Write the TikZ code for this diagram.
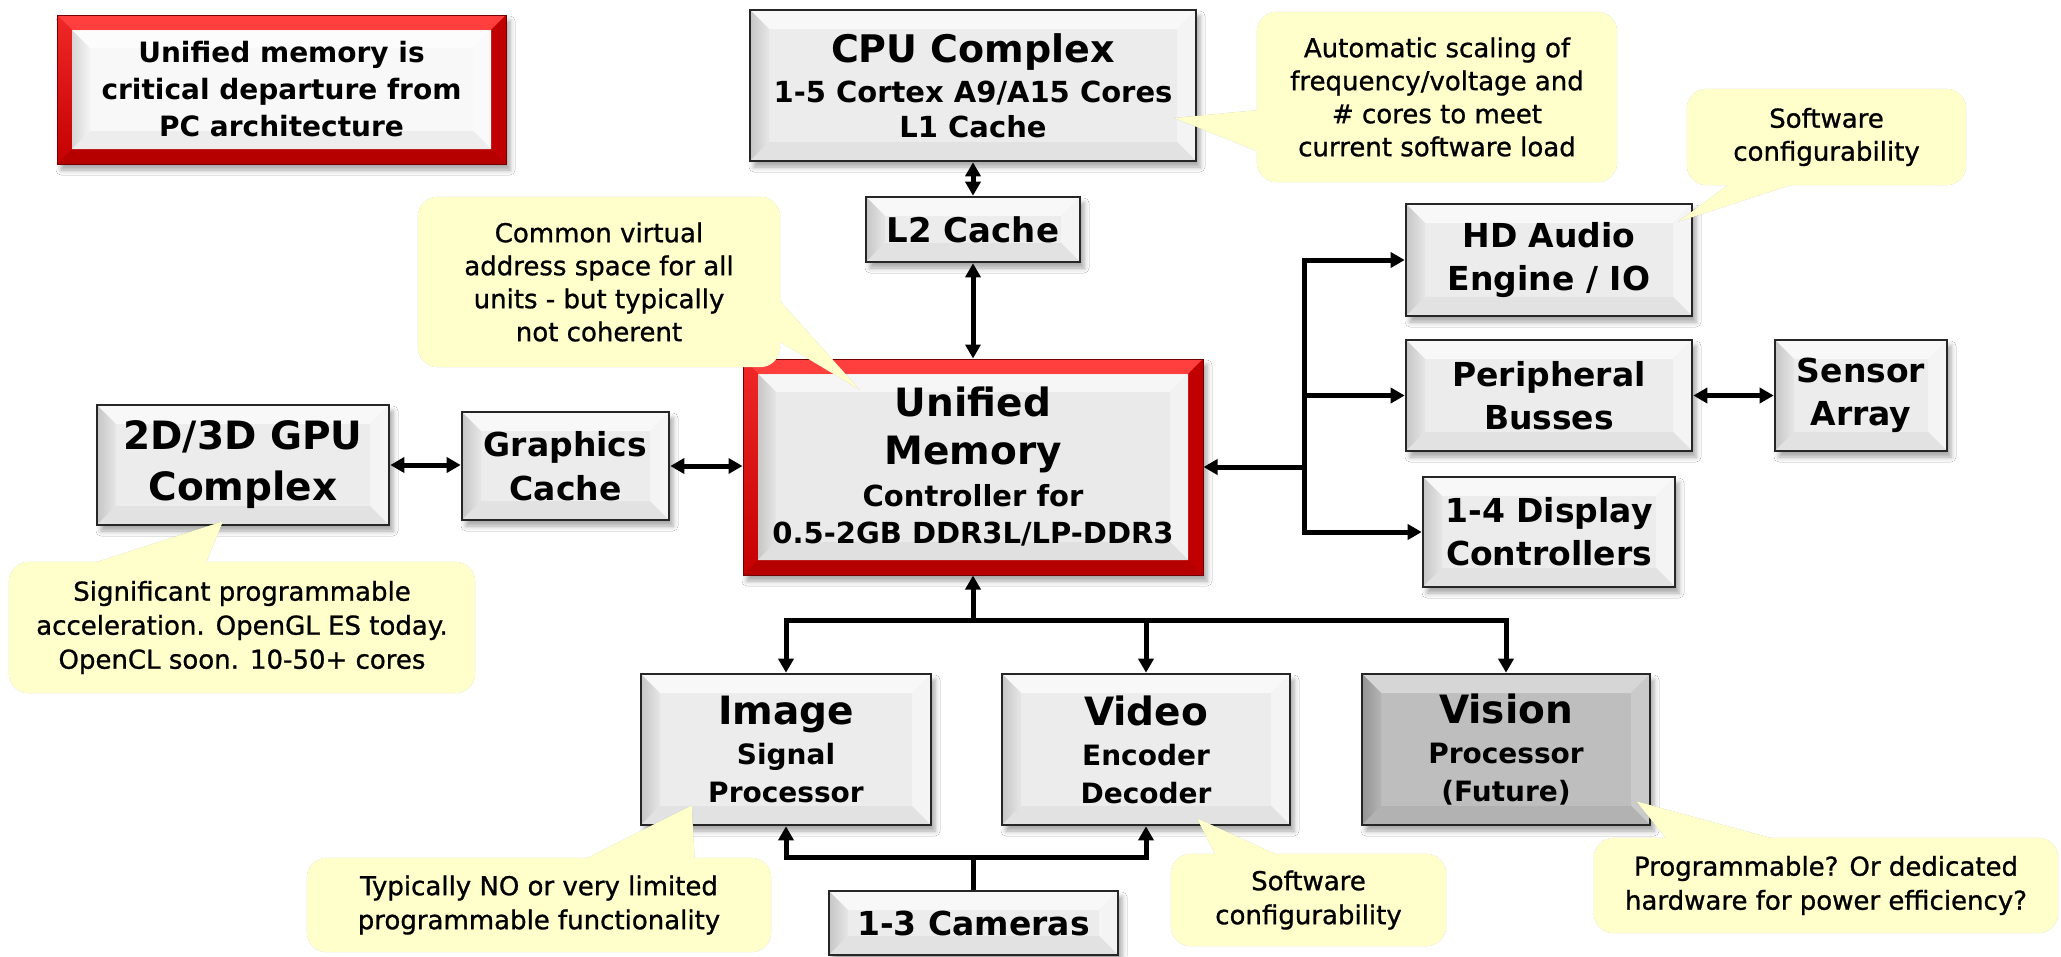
\documentclass[tikz,border=0pt]{standalone}
\usepackage{fontspec}
\setmainfont{DejaVu Sans}
\newfontfamily\callfont{DejaVu Sans}[FakeBold=1]
\usetikzlibrary{calc,arrows.meta,shadows.blur}

% palette
\definecolor{callY}{RGB}{255,255,204}
\definecolor{boxC}{RGB}{236,236,236}
\definecolor{bvT}{RGB}{248,248,248}
\definecolor{bvLa}{RGB}{198,198,198}
\definecolor{bvLb}{RGB}{230,230,230}
\definecolor{bvR}{RGB}{244,244,244}
\definecolor{bvB}{RGB}{226,226,226}
\definecolor{visC}{RGB}{190,190,190}
\definecolor{visT}{RGB}{214,214,214}
\definecolor{visLa}{RGB}{148,148,148}
\definecolor{visLb}{RGB}{180,180,180}
\definecolor{visR}{RGB}{202,202,202}
\definecolor{visB}{RGB}{178,178,178}
\definecolor{redC}{RGB}{212,0,0}
\definecolor{redT}{RGB}{255,62,62}
\definecolor{redLa}{RGB}{240,40,40}
\definecolor{redLb}{RGB}{196,0,0}
\definecolor{redR}{RGB}{192,0,0}
\definecolor{redB}{RGB}{182,0,0}
\definecolor{noteIn}{RGB}{248,248,248}
\definecolor{memIn}{RGB}{234,234,234}

\pgfdeclarelayer{cshad}
\pgfdeclarelayer{cfill}
\pgfdeclarelayer{ctext}
\pgfsetlayers{main,cshad,cfill,ctext}

\newcommand\fsz[2]{\fontsize{#1}{#2}\selectfont}

% four bevel faces between inset #1 and inset #2: top, left, right, bottom
\newcommand\bvq[6]{%
 \path[#3] ($(path picture bounding box.north west)+(#1,-#1)$) -- ($(path picture bounding box.north east)+(-#1,-#1)$) -- ($(path picture bounding box.north east)+(-#2,-#2)$) -- ($(path picture bounding box.north west)+(#2,-#2)$) -- cycle;
 \path[#4] ($(path picture bounding box.north west)+(#1,-#1)$) -- ($(path picture bounding box.north west)+(#2,-#2)$) -- ($(path picture bounding box.south west)+(#2,#2)$) -- ($(path picture bounding box.south west)+(#1,#1)$) -- cycle;
 \path[#5] ($(path picture bounding box.north east)+(-#1,-#1)$) -- ($(path picture bounding box.south east)+(-#1,#1)$) -- ($(path picture bounding box.south east)+(-#2,#2)$) -- ($(path picture bounding box.north east)+(-#2,-#2)$) -- cycle;
 \path[#6] ($(path picture bounding box.south west)+(#1,#1)$) -- ($(path picture bounding box.south west)+(#2,#2)$) -- ($(path picture bounding box.south east)+(-#2,#2)$) -- ($(path picture bounding box.south east)+(-#1,#1)$) -- cycle;
}

% red frame with a light inner panel
\newcommand\redframe[5]{%
 \fill[#1] ($(path picture bounding box.north west)+(15pt,-15pt)$) rectangle ($(path picture bounding box.south east)+(-15pt,15pt)$);
 \bvq{0pt}{15pt}{fill=redT}{top color=redLa,bottom color=redLb}{fill=redR}{fill=redB}
 \bvq{15pt}{33pt}{fill=white,fill opacity=.6}{left color=#2,right color=#3}{fill=#4}{fill=#5}
}

\tikzset{
 wh/.style 2 args={minimum width=#1pt, minimum height=#2pt},
 boxshadow/.style={blur shadow={shadow xshift=4pt, shadow yshift=-6pt, shadow blur radius=5pt, shadow opacity=35}},
 basebox/.style={rectangle, inner sep=0pt, align=center, text=black, boxshadow},
 gbox/.style={basebox, draw=black!85, line width=2.6pt, fill=boxC,
   path picture={\bvq{0pt}{19pt}{fill=bvT}{left color=bvLa,right color=bvLb}{fill=bvR}{fill=bvB}}},
 vbox/.style={basebox, draw=black!85, line width=2.6pt, fill=visC,
   path picture={\bvq{0pt}{19pt}{fill=visT}{left color=visLa,right color=visLb}{fill=visR}{fill=visB}}},
 notebox/.style={basebox, draw=red!45!black, line width=1pt, fill=redC,
   path picture={\redframe{noteIn}{black!16}{black!4}{black!2}{black!7}}},
 membox/.style={basebox, draw=red!45!black, line width=1pt, fill=redC,
   path picture={\redframe{memIn}{black!22}{black!10}{black!5}{black!12}}},
 ctext/.style={inner sep=0pt, align=center, text=black, font=\callfont\fsz{26}{33}},
 shadA/.style={fill=black, fill opacity=.10, xshift=2pt, yshift=-3pt},
 shadB/.style={fill=black, fill opacity=.10, xshift=4pt, yshift=-5pt},
 shadC/.style={fill=black, fill opacity=.07, xshift=6pt, yshift=-7pt},
 conn/.style={line width=5pt, draw=black, line join=miter},
 tri/.tip={Triangle[length=14pt,width=15pt]},
}

% yellow speech bubble behind a text node: #1 node, #2 base point, #3 tip, #4 base point
\newcommand\callout[4]{%
 \begin{pgfonlayer}{cshad}
  \foreach \sh in {shadA,shadB,shadC}{%
   \path[\sh, rounded corners=20pt] (#1.south west) rectangle (#1.north east);
   \path[\sh] #2 -- #3 -- #4 -- cycle;
  }
 \end{pgfonlayer}
 \begin{pgfonlayer}{cfill}
  \fill[callY, rounded corners=20pt] (#1.south west) rectangle (#1.north east);
  \fill[callY] #2 -- #3 -- #4 -- cycle;
 \end{pgfonlayer}
}

\begin{document}
\begin{tikzpicture}[x=1pt,y=-1pt]
\fill[white] (0,0) rectangle (2061,956);
\useasboundingbox (0,0) rectangle (2061,956);

% blocks
\node[notebox, wh={449}{149}, font=\bfseries\fsz{28}{37}] (note) at (281.5,89.5)
  {Unified memory is\\critical departure from\\PC architecture};
\node[gbox, wh={446}{151}, font=\bfseries\fsz{29}{35}] (cpu) at (973,85.5)
  {{\fsz{38}{35}CPU Complex}\\[5pt]1-5 Cortex A9/A15 Cores\\L1 Cache};
\node[gbox, wh={214}{65}, font=\bfseries\fsz{34}{40}] (l2) at (973,229.5) {L2 Cache};
\node[membox, wh={460}{216}, font=\bfseries\fsz{29}{37}] (mem) at (973,467)
  {{\fsz{39}{37}Unified}\\[11pt]{\fsz{39}{37}Memory}\\[5pt]Controller for\\0.5-2GB DDR3L/LP-DDR3};
\node[gbox, wh={286}{112}, font=\bfseries\fsz{33}{43}] (hd) at (1549,260) {HD Audio\\Engine / IO};
\node[gbox, wh={286}{111}, font=\bfseries\fsz{33}{43}] (per) at (1549,395.5) {Peripheral\\Busses};
\node[gbox, wh={172}{111}, font=\bfseries\fsz{33}{43}] (sens) at (1861,395.5) {Sensor\\Array};
\node[gbox, wh={252}{110}, font=\bfseries\fsz{33}{43}] (disp) at (1549,532) {1-4 Display\\Controllers};
\node[gbox, wh={292}{120}, font=\bfseries\fsz{39}{51}] (gpu) at (243,465) {2D/3D GPU\\Complex};
\node[gbox, wh={207}{108}, font=\bfseries\fsz{33}{44}] (gc) at (565.5,466) {Graphics\\Cache};
\node[gbox, wh={290}{151}, font=\bfseries\fsz{28}{38}] (isp) at (786,749.5)
  {{\fsz{39}{38}Image}\\[2pt]Signal\\Processor};
\node[gbox, wh={288}{151}, font=\bfseries\fsz{28}{38}] (vid) at (1146,749.5)
  {{\fsz{39}{38}Video}\\[2pt]Encoder\\Decoder};
\node[vbox, wh={288}{151}, font=\bfseries\fsz{28}{38}] (vis) at (1506,749.5)
  {{\fsz{39}{38}Vision}\\[2pt]Processor\\(Future)};
\node[gbox, wh={289}{64}, font=\bfseries\fsz{33}{40}] (cam) at (973.5,923) {1-3 Cameras};

% bus junctions
\coordinate (rb) at (1304,467);
\coordinate (bb) at (973,620);
\coordinate (cb) at (973.5,857);

% connectors
\draw[conn, tri-tri] (cpu.south) -- (l2.north);
\draw[conn, tri-tri] (l2.south) -- (mem.north);
\draw[conn, tri-tri] (gpu.east) -- (gpu.east -| gc.west);
\draw[conn, tri-tri] (gc.east) -- (gc.east -| mem.west);
\draw[conn, tri-tri] (hd.west) -- (rb |- hd.west) -- (rb |- disp.west) -- (disp.west);
\draw[conn, -tri] (rb |- per.west) -- (per.west);
\draw[conn, -tri] (rb) -- (rb -| mem.east);
\draw[conn, tri-tri] (per.east) -- (sens.west);
\draw[conn, tri-tri] (isp.north) -- (isp.north |- bb) -- (vis.north |- bb) -- (vis.north);
\draw[conn, -tri] (vid.north |- bb) -- (vid.north);
\draw[conn, -tri] (bb) -- (mem.south);
\draw[conn, tri-tri] (isp.south) -- (isp.south |- cb) -- (vid.south |- cb) -- (vid.south);
\draw[conn] (cam.north) -- (cb);

% callout texts
\begin{pgfonlayer}{ctext}
\node[ctext, wh={360}{170}] (c1) at (1437,97)
  {Automatic scaling of\\frequency/voltage and\\\# cores to meet\\current software load};
\node[ctext, wh={362}{170}] (c2) at (599,282)
  {Common virtual\\address space for all\\units - but typically\\not coherent};
\node[ctext, wh={279}{96}] (c3) at (1826.5,137) {Software\\configurability};
\node[ctext, wh={466}{131}, font=\callfont\fsz{26}{34}] (c4) at (242,627.5)
  {Significant programmable\\acceleration. OpenGL ES today.\\OpenCL soon. 10-50+ cores};
\node[ctext, wh={464}{94}, font=\callfont\fsz{26}{34}] (c5) at (539,905)
  {Typically NO or very limited\\programmable functionality};
\node[ctext, wh={275}{92}, font=\callfont\fsz{26}{34}] (c6) at (1308.5,900) {Software\\configurability};
\node[ctext, wh={464}{95}, font=\callfont\fsz{26}{34}] (c7) at (1826,885.5)
  {Programmable? Or dedicated\\hardware for power efficiency?};
\end{pgfonlayer}

% callout bubbles
\callout{c1}{($(c1.north west)+(4,98)$)}{($(cpu.east)+(-23,32.5)$)}{($(c1.north west)+(4,141)$)}
\callout{c2}{($(c2.north east)+(-4,100)$)}{($(mem.north west)+(117,31)$)}{($(c2.north east)+(-4,143)$)}
\callout{c3}{($(c3.south west)+(46,-4)$)}{($(hd.north east)+(-15,19)$)}{($(c3.south west)+(116,-4)$)}
\callout{c4}{($(c4.north west)+(76,4)$)}{($(gpu.south)+(-20,-5)$)}{($(c4.north west)+(196,4)$)}
\callout{c5}{($(c5.north west)+(273,4)$)}{($(isp.south west)+(52,-21)$)}{($(c5.north west)+(388,4)$)}
\callout{c6}{($(c6.north west)+(46,4)$)}{($(vid.south)+(51,-8)$)}{($(c6.north west)+(113,4)$)}
\callout{c7}{($(c7.north west)+(75,4)$)}{($(vis.south east)+(-15,-25)$)}{($(c7.north west)+(191,4)$)}
\end{tikzpicture}
\end{document}
